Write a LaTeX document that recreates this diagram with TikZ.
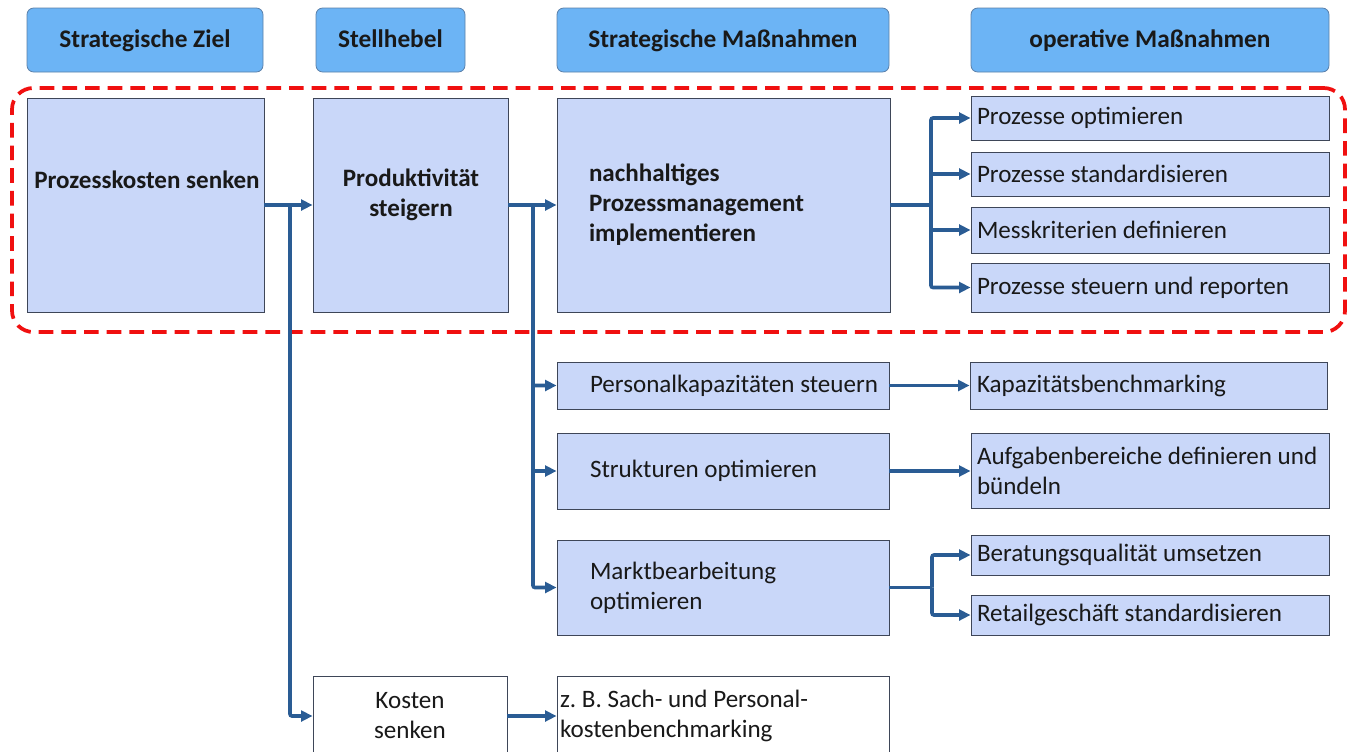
\documentclass[tikz,border=0pt]{standalone}
\usepackage{fontspec}
\setmainfont{Carlito}
\usetikzlibrary{arrows.meta}
\definecolor{headfill}{HTML}{6CB4F5}
\definecolor{headline}{HTML}{5A7FA8}
\definecolor{boxfill}{HTML}{C9D7F9}
\definecolor{boxline}{HTML}{3E4658}
\definecolor{flow}{HTML}{2A5C94}
\definecolor{focusred}{HTML}{F01010}
\newcommand\bodyfont{\fontsize{18.8}{22.5}\selectfont}
\newcommand\lead{\hspace*{20.25pt}}
\tikzset{
  txt/.style={font=\bodyfont, text=black!90},
  head/.style={txt, font=\fontsize{19}{22.5}\selectfont\bfseries, draw=headline, line width=0.6pt,
    fill=headfill, rounded corners=5pt, align=center, inner sep=0pt,
    text height=14.5pt, text depth=4pt},
  box/.style={txt, draw=boxline, line width=0.7pt, fill=boxfill, align=flush left, inner ysep=0pt},
  plain/.style={box, fill=white},
  label/.style={txt, align=center, inner sep=0pt},
  flowline/.style={draw=flow, line width=2.7pt, rounded corners=1.5pt},
  conn/.style={flowline, -{Triangle[length=8.5pt,width=8pt]}},
  focus/.style={draw=focusred, line width=2.8pt, dash pattern=on 11pt off 6pt,
    rounded corners=16pt, inner sep=0pt}
}
\begin{document}
\begin{tikzpicture}[x=0.75pt,y=-0.75pt]
\useasboundingbox (0,0) rectangle (1355,751);
\clip (0,0) rectangle (1355,751);

% column headers
\node[head, minimum width=177pt, minimum height=48pt] (h1) at (145,40) {Strategische Ziel};
\node[head, minimum width=111.75pt, minimum height=48pt] (h2) at (390.5,40) {Stellhebel};
\node[head, minimum width=249pt, minimum height=48pt] (h3) at (723,40) {Strategische Maßnahmen};
\node[head, minimum width=268.5pt, minimum height=48pt] (h4) at (1150,40) {operative Maßnahmen};

% dashed frame around the process branch
\node[focus, minimum width=999.75pt, minimum height=183pt] (frame) at (678.5,210) {};

% strategic goal and lever
\node[box, minimum width=177.75pt, minimum height=160.5pt] (A) at (145.5,205) {};
\node[label, font=\bodyfont\bfseries] (Atext) at (147,180) {Prozesskosten senken};
\node[box, minimum width=146.25pt, minimum height=160.5pt] (B) at (410.5,205) {};
\node[label, font=\bodyfont\bfseries] (Btext) at (411,195) {Produktivität\\steigern};

% strategic measures
\node[box, font=\bodyfont\bfseries, inner xsep=24pt, text width=201.75pt, minimum height=160.5pt] (C) at (723.5,205) {nachhaltiges\\Prozessmanagement\\implementieren};
\node[box, inner xsep=4.5pt, text width=240pt, minimum height=35.25pt] (M1) at (723,385.5) {\lead Personalkapazitäten steuern};
\node[box, inner xsep=4.5pt, text width=240pt, minimum height=57pt] (M2) at (723,471) {\lead Strukturen optimieren};
\node[box, inner xsep=4.5pt, text width=240pt, minimum height=71.25pt] (M3) at (723,587.5) {\lead Marktbearbeitung\\\lead optimieren};

% operative measures
\node[box, inner xsep=4.5pt, text width=259.5pt, minimum height=33pt] (R1) at (1150,118) {Prozesse optimieren};
\node[box, inner xsep=4.5pt, text width=259.5pt, minimum height=33pt] (R2) at (1150,174) {Prozesse standardisieren};
\node[box, inner xsep=4.5pt, text width=259.5pt, minimum height=34.5pt] (R3) at (1150,230) {Messkriterien definieren};
\node[box, inner xsep=4.5pt, text width=259.5pt, minimum height=36.75pt] (R4) at (1150,287.5) {Prozesse steuern und reporten};
\node[box, inner xsep=5.25pt, text width=257.25pt, minimum height=35.25pt] (K) at (1148.5,385.5) {Kapazitätsbenchmarking};
\node[box, inner xsep=4.5pt, text width=259.5pt, minimum height=56.25pt] (A2) at (1150,471) {Aufgabenbereiche definieren und\\bündeln};
\node[box, inner xsep=4.5pt, text width=259.5pt, minimum height=30pt] (BQ) at (1150,555) {Beratungsqualität umsetzen};
\node[box, inner xsep=4.5pt, text width=259.5pt, minimum height=30pt] (RG) at (1150,615) {Retailgeschäft standardisieren};

% cost branch
\node[plain, align=center, inner xsep=0pt, text width=145.5pt, minimum height=60pt] (KS) at (410,716) {Kosten\\senken};
\node[plain, inner xsep=2.25pt, text width=244.5pt, minimum height=60pt] (ZB) at (723,716) {z.\ B. Sach- und Personal-\\kostenbenchmarking};

% bus junctions
\coordinate (busA) at (290,205);
\coordinate (busB) at (533,205);
\coordinate (busC) at (931,205);
\coordinate (busM) at (932,587.5);

% connectors
\draw[conn] (A.east) -- (B.west);
\draw[conn] (busA) |- (KS.west);
\draw[conn] (KS.east) -- (ZB.west);
\draw[conn] (B.east) -- (C.west);
\draw[conn] (busB) |- (M1.west);
\draw[conn] (busB) |- (M2.west);
\draw[conn] (busB) |- (M3.west);
\draw[flowline] (C.east) -- (busC);
\draw[conn] (busC) |- (R1.west);
\draw[conn] (busC) |- (R2.west);
\draw[conn] (busC) |- (R3.west);
\draw[conn] (busC) |- (R4.west);
\draw[conn] (M1.east) -- (K.west);
\draw[conn] (M2.east) -- (A2.west);
\draw[flowline] (M3.east) -- (busM);
\draw[conn] (busM) |- (BQ.west);
\draw[conn] (busM) |- (RG.west);
\end{tikzpicture}
\end{document}
